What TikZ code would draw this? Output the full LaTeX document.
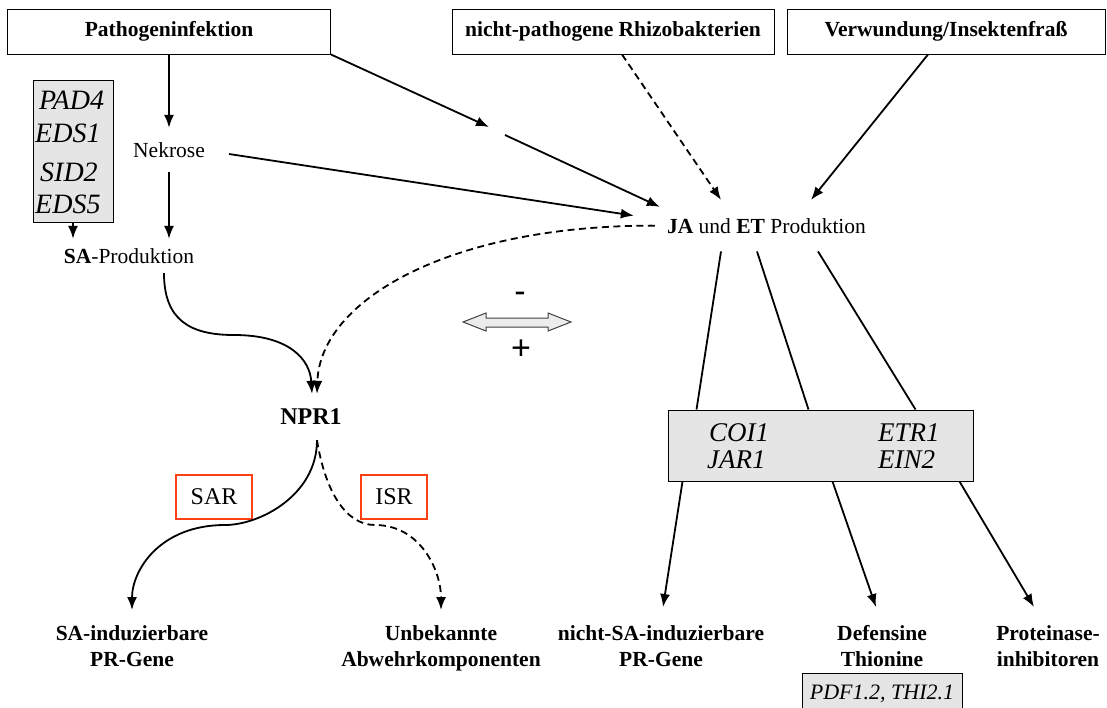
\documentclass[tikz,border=0pt]{standalone}
\usepackage{fontspec}
\setmainfont{Liberation Serif}
\newfontfamily\sansf{Liberation Sans}
\usetikzlibrary{arrows.meta,calc}
\newcommand\fs[2]{\fontsize{#1}{#2}\selectfont}
\definecolor{sarred}{RGB}{255,64,20}
\definecolor{boxgray}{gray}{0.9}
\begin{document}
\begin{tikzpicture}[x=1pt,y=-1pt,
  topbox/.style={draw, line width=1pt, minimum height=45pt, inner sep=0pt, font=\fs{21.5}{26}\bfseries},
  lbl/.style={align=center, font=\fs{21.5}{26}\bfseries, inner xsep=2pt, inner ysep=15pt},
  plain/.style={font=\fs{21.5}{26}},
  genebox/.style={draw, line width=1pt, fill=boxgray, inner sep=0pt},
  genetxt/.style={font=\fs{28}{33}\itshape, inner sep=0pt},
  genetxtr/.style={font=\fs{27}{32}\itshape, inner sep=0pt},
  redbox/.style={draw=sarred, line width=2.4pt, font=\fs{24}{28}, inner sep=0pt, minimum height=44pt},
  arr/.style={line width=1.8pt, -{Latex[length=13pt,width=10pt]}},
  ln/.style={line width=1.8pt},
  dsh/.style={dash pattern=on 7pt off 4.5pt}
]
\useasboundingbox (0,0) rectangle (1107,707);
% top boxes
\node[topbox, minimum width=323pt] (patho) at (169,31.5) {Pathogeninfektion};
\node[topbox, minimum width=322pt] (rhizo) at (613,31.5) {nicht-pathogene Rhizobakterien};
\node[topbox, minimum width=318pt] (verw) at (946,31.5) {Verwundung/Insektenfraß};
% left gene box
\node[genebox, minimum width=80pt, minimum height=142pt] (sag) at (73,151) {};
\node[genetxt, anchor=base west] (pad) at (39,109) {PAD4};
\node[genetxt, anchor=base west] (edsa) at (35,142) {EDS1};
\node[genetxt, anchor=base west] (sid) at (40,181) {SID2};
\node[genetxt, anchor=base west] (edsb) at (35,213) {EDS5};
% middle texts
\node[plain, inner xsep=24pt, minimum height=44pt] (nek) at (169,150) {Nekrose};
\node[plain, minimum height=34pt, inner xsep=2pt] (sap) at (129,256) {\textbf{SA}-Produktion};
\node[font=\fs{24}{28}\bfseries, minimum height=46pt] (npr) at (311,417) {NPR1};
\node[plain, anchor=base, inner xsep=12pt, inner ysep=18pt] (ja) at (766.5,233) {\textbf{JA} und \textbf{ET} Produktion};
\coordinate (gapA) at (489,127);
\coordinate (gapB) at (505,135);
% right gene box
\node[genebox, minimum width=305pt, minimum height=71pt] (jag) at (820.5,445.5) {};
\node[genetxtr, anchor=base west] (coi) at (709,441) {COI1};
\node[genetxtr, anchor=base west] (jar) at (707,468) {JAR1};
\node[genetxtr, anchor=base west] (etr) at (878,441) {ETR1};
\node[genetxtr, anchor=base west] (ein) at (878,468) {EIN2};
% red boxes
\node[redbox, minimum width=76pt] (sar) at (214,497) {SAR};
\node[redbox, minimum width=66pt] (isr) at (394,497) {ISR};
% bottom labels
\node[lbl, anchor=north] (sapr) at (132,610) {SA-induzierbare\\PR-Gene};
\node[lbl, anchor=north] (unb) at (441,610) {Unbekannte\\Abwehrkomponenten};
\node[lbl, anchor=north] (nsa) at (661,610) {nicht-SA-induzierbare\\PR-Gene};
\node[lbl, anchor=north] (def) at (882,610) {Defensine\\Thionine};
\node[lbl, anchor=north] (prot) at (1048,610) {Proteinase-\\inhibitoren};
\node[genebox, anchor=north, minimum width=160pt, minimum height=40pt, font=\fs{22}{26}\itshape] (pdf) at (882,673) {PDF1.2, THI2.1};
% signs
\node[font=\sansf\fs{34}{40}, inner sep=0pt] (minus) at (520,297) {-};
\node[font=\sansf\fs{34}{40}, inner sep=0pt] (plus) at (521,350) {+};
\draw[fill=gray!15, draw=black!75, line width=1pt] (463,322) -- (486,313) -- (486,318) -- (548,318) -- (548,313) -- (571,322) -- (548,331) -- (548,327) -- (486,327) -- (486,331) -- cycle;
% connectors
\draw[arr] (patho.south) -- (nek.north);
\draw[arr] (nek.south) -- (nek.south |- sap.north);
\draw[arr] (sag.south) -- (sag.south |- sap.north);
\draw[arr] (patho.south east) -- (gapA);
\draw[arr] (gapB) -- ($(ja.north west)+(5,7)$);
\draw[arr] ($(nek.east)+(0,4)$) -- ($(ja.west)+(-21,-10)$);
\draw[arr, dsh] ($(rhizo.south)+(9,0)$) -- ($(ja.north)+(-45.5,0)$);
\draw[arr] ($(verw.south)+(-18,0)$) -- ($(ja.north)+(44.5,0)$);
\draw[arr] ($(sap.south)+(35,0)$) .. controls (164,320) and (190,335) .. (234,335) .. controls (290,335) and (310,360) .. ($(npr.north)+(1,0)$);
\draw[arr, dsh] (ja.west) .. controls (450,225) and (320,300) .. ($(npr.north)+(6,0)$);
\draw[arr] ($(npr.south)+(6,0)$) .. controls (317,495) and (260,525) .. (225,525) .. controls (160,525) and (132,570) .. (sapr.north);
\draw[arr, dsh] ($(npr.south)+(6,0)$) .. controls (325,490) and (345,525) .. (375,525) .. controls (420,525) and (441,570) .. (unb.north);
\draw[ln] ($(ja.south)+(-45.5,0)$) -- ($(jag.north west)+(29,0)$);
\draw[ln] ($(ja.south)+(-9.5,0)$) -- ($(jag.north west)+(141,0)$);
\draw[ln] ($(ja.south)+(51.5,0)$) -- ($(jag.north west)+(248,0)$);
\draw[arr] ($(jag.south west)+(15,0)$) -- ($(nsa.north)+(2,-3)$);
\draw[arr] ($(jag.south west)+(165,0)$) -- ($(def.north)+(-6,-3)$);
\draw[arr] ($(jag.south west)+(292,0)$) -- ($(prot.north)+(-14,-3)$);
\end{tikzpicture}
\end{document}
